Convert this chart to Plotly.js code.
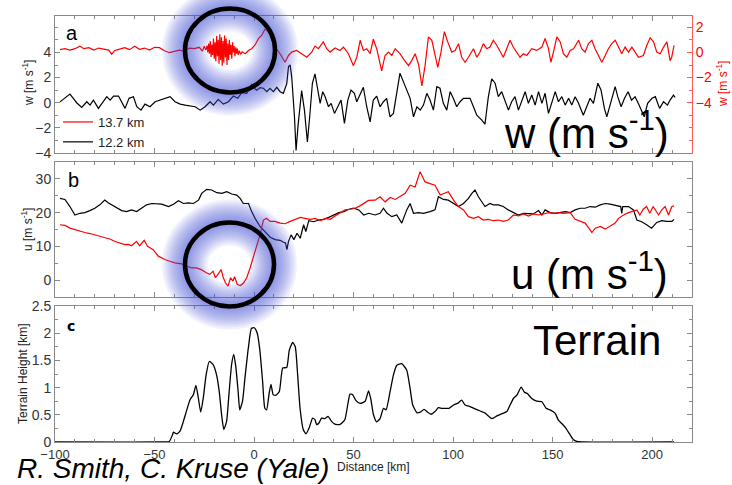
<!DOCTYPE html>
<html>
<head>
<meta charset="utf-8">
<script src="https://cdn.plot.ly/plotly-3.0.1.min.js"></script>
<style>html,body{margin:0;padding:0;background:#fff;}#chart{width:732px;height:485px;}</style>
</head>
<body>
<div id="chart"></div>
<script>
// ---- Panel a: vertical velocity w [m/s] ----
const wRedKm = [-97.5,-95,-92.5,-90,-87.5,-85.5,-83,-80.5,-78,-75.5,-73,-71.5,-70,-67.5,-65,-62.5,-60,-57.5,-55,-52.5,-50,-47.5,-45,-42.5,-40,-37.5,-35,-32.5,-30,-27.5,-26,-25,-24.2,-23.6,-23.2,-22.8,-22.4,-22,-21.6,-21.2,-20.8,-20.4,-20,-19.6,-19.2,-18.8,-18.4,-18,-17.6,-17.2,-16.8,-16.4,-16,-15.6,-15.2,-14.8,-14.4,-14,-13.6,-13.2,-12.8,-12.4,-12,-11.6,-11.2,-10.8,-10.4,-10,-9.6,-9.2,-8.8,-8.4,-8,-7.4,-6.8,-6,-4.5,-2.5,-1.2,0.5,2.2,3.9,5.5,7.2,8.9,10.5,13,15.6,17.3,18.9,21.4,23.9,26.5,29,30.6,32.3,34.8,36.5,38.2,40.7,43.2,44.9,47.4,49.9,51.6,53.3,54.9,56.6,58.3,59.9,61.6,64.1,65.8,67.5,69.2,70.9,73.3,75,77.6,79.2,80.9,82.6,84.3,85.9,87.6,89.3,90.9,92.3,93.9,95.6,97.3,99.3,101,102.7,104.3,106,107.7,110.2,111.9,113.5,115.2,116.9,118.5,120.2,121.9,123.6,125.2,126.9,128.6,130.2,131.9,133.6,135.3,137,139.5,142,144.6,146.2,147.9,149.1,150.4,152.1,153.8,155.4,157.1,158.8,160.5,163,164.6,166.3,168,169.7,171.3,173,174.7,176.4,178,179.7,181.4,183.1,184.7,186.4,188.1,189.8,191.4,193.1,195.6,197.3,199,200.7,202.3,204,205.7,207.4,209,209.8,211];
const wRedVal = [0.22,0.30,0.19,0.30,0.49,0.30,0.38,0.19,0.35,0.24,0.19,-0.14,0.16,0.27,0.38,0.22,0.49,0.25,0.35,0.19,0.41,0.38,0.14,-0.02,0.08,0.19,0.08,0.35,0.30,0.41,0.10,0.50,0.20,0.55,0.00,0.70,-0.10,0.90,-0.35,0.60,-0.20,1.10,-0.50,0.80,-0.70,1.30,-0.30,1.00,-0.90,1.45,-0.60,1.20,-1.05,0.90,-0.80,1.35,-0.40,1.10,-1.00,0.70,-0.60,1.00,-0.20,0.60,-0.50,0.80,0.00,0.50,-0.30,0.40,-0.10,0.30,-0.20,0.15,-0.15,0.05,-0.10,0.20,0.30,0.60,1.10,1.38,1.86,1.65,1.10,0.43,-0.10,-0.78,-0.24,0.03,0.16,-0.10,-0.38,0.03,0.51,0.30,0.84,0.30,0.03,0.35,0.16,0.43,-0.10,-1.05,-0.38,0.97,0.16,0.30,-0.10,1.05,0.30,-1.46,-0.24,0.03,-0.24,0.30,-0.10,-0.51,-1.05,-0.65,-0.10,-0.92,-2.67,-1.05,1.24,0.97,-0.24,-1.19,0.03,1.65,0.84,0.03,0.16,0.70,-0.38,-0.78,-0.38,0.30,-0.38,0.03,0.70,0.30,0.43,0.97,0.57,0.03,-0.38,0.30,0.97,0.43,0.03,-0.38,-0.10,-0.24,0.30,0.16,0.43,1.11,0.30,-0.78,0.03,1.24,0.84,-0.10,-0.38,0.16,0.30,0.97,0.30,0.03,0.70,0.97,0.30,-0.24,-0.78,-0.24,0.30,0.70,0.97,0.43,-0.10,0.43,0.03,0.43,0.03,-0.38,-0.24,0.57,1.16,0.84,0.03,-0.10,0.43,0.84,-0.65,-0.38,0.57];

const wBlackKm = [-97.5,-95,-92.5,-90.8,-89.1,-86.6,-84,-82.4,-80.7,-78.2,-75.7,-74,-72.3,-70.6,-68.1,-66.5,-64.8,-62.8,-60.6,-58.9,-56.8,-54.8,-52.3,-49.7,-47.2,-44.7,-42.2,-39.7,-37.1,-34.6,-32.1,-29.6,-27.1,-24.6,-22.1,-20.4,-18,-15.4,-12.9,-10.4,-8.2,-6.2,-3.7,-1.2,0.5,1.3,3,4.7,6.4,8,9.7,11.4,13.1,14.7,16.4,17.3,18.1,18.9,20.3,21.1,22.1,23.1,23.9,25.3,26.8,28,29.3,30.6,32,33.2,34.5,35.7,37.4,38.7,40.4,42,43.7,45.4,47.1,48.7,50.4,51.6,53.3,54.9,56.6,58.3,59.9,61.6,63.3,65,66.6,68.3,70,71.7,73.3,75,76.7,78.4,80.1,81.8,83.5,85.1,86.8,88.4,90.1,91.8,93.4,95.1,96.8,98.5,100.1,101.8,103.5,105.2,106.8,108.5,110.2,111.9,114.4,116,117.7,119.4,121.1,122.7,124.4,126.1,127.8,129.4,131.1,132.8,134.5,136.2,137.8,139.5,141.2,142.9,144.6,146.2,147.9,149.6,151.3,152.9,154.6,156.3,158,159.6,161.3,163,165.4,167.1,168.8,170.5,172.7,174.3,176,177.2,178.9,181.4,182.7,184.4,186.1,187.9,189.6,191.4,193,194.4,196,197.7,199.9,201.6,203.7,205.7,207.7,209,210.7,211.5];
const wBlackVal = [0.07,0.35,0.69,0.35,0.00,-0.37,0.08,-0.19,0.21,-0.45,0.08,0.48,0.21,0.53,0.53,0.08,-0.45,0.35,0.48,-0.32,-0.59,-0.11,-0.32,0.08,0.21,0.35,0.48,0.08,-0.11,-0.19,-0.27,-0.32,-0.59,-0.32,0.08,-0.19,0.27,-0.11,0.08,0.53,0.35,0.80,0.75,1.45,1.10,1.00,1.20,1.15,0.88,1.15,0.88,1.23,0.88,0.75,1.50,2.88,3.01,2.08,-1.12,-3.79,-1.80,-0.05,0.96,-0.59,-3.12,-1.00,1.55,2.29,1.15,-0.05,0.88,0.48,-0.32,-0.05,-0.85,-0.32,0.21,-1.65,0.21,1.01,0.75,0.08,0.75,1.23,-0.32,-1.52,0.21,0.53,-0.32,0.08,0.35,-1.12,-0.85,0.88,2.35,1.68,1.01,0.35,-1.12,-0.32,-0.59,-0.19,0.75,0.21,-0.59,1.28,1.15,-0.05,-0.59,0.88,0.35,-0.32,0.08,0.35,0.35,0.35,-0.32,-0.99,-1.39,-1.71,0.48,1.89,1.55,0.48,0.88,0.08,-0.59,0.08,0.48,-0.59,0.21,0.88,-0.05,0.61,-0.19,0.88,-0.05,0.75,-0.85,-0.05,0.88,0.08,0.48,-0.19,0.35,-0.19,0.48,-0.05,-0.99,-0.32,0.35,-0.05,1.55,1.01,-0.45,-1.12,-0.19,1.28,0.48,-0.32,0.35,0.88,0.21,0.48,-0.05,-0.59,-1.12,-0.05,0.35,0.48,-0.45,0.08,-0.19,0.21,0.61,0.42];

// ---- Panel b: horizontal wind u [m/s] ----
const uRedKm = [-97.5,-95,-92.5,-90,-87.5,-85,-82.5,-80,-77.5,-75,-72.5,-70,-67.5,-65,-63,-61.6,-60.2,-59.1,-57.5,-55.2,-53.5,-50.7,-48.1,-44.8,-42.3,-39.7,-36.4,-33.9,-31.4,-29,-26.5,-24,-22.3,-20.6,-19.4,-17.8,-16.5,-15.6,-14.4,-13.1,-11.8,-10.6,-9.8,-8.4,-6.8,-5.2,-3.7,-2,-0.3,1.3,3,4.7,6.3,8,10.6,13.1,15.6,18.2,20.7,23.2,25.7,28.2,30.7,33.2,35.7,38.2,40.7,43.2,45.7,48.2,50.7,53.2,55.7,57.5,60.8,63.3,65.8,68.4,70.9,73.4,75.9,78.4,80.9,83.4,85.9,88.4,90.9,93.5,95.5,97.6,100.2,102.7,105.2,107.7,110.2,112.7,115.2,117.7,120.2,122.7,125.2,127.7,130.3,132.8,135.3,137.8,140.3,142.9,145.4,147.9,150.4,152.9,155.4,158.8,161.3,163.8,166.3,168.8,169.7,171.4,173.9,176.4,178.9,181.4,183.1,185.6,188.1,190.6,192.3,193.8,195.5,197.2,198.8,200.5,203.2,204.8,206.5,208.2,209.9,211];
const uRedVal = [16.4,16.2,15.4,14.9,14.6,14.1,13.8,13.4,13.1,12.7,12.2,11.5,11.0,10.5,10.6,10.2,10.9,11.5,10.2,11.8,10.0,9.0,7.1,6.1,5.6,5.1,4.8,4.1,3.6,3.6,3.1,2.2,1.7,2.6,0.7,2.0,3.1,1.0,-0.8,-1.8,0.7,-0.3,1.0,-1.3,-1.6,-0.8,0.7,3.6,7.1,10.0,13.4,17.8,18.3,17.4,17.4,16.9,16.7,17.4,17.9,18.6,18.3,18.0,18.3,17.6,18.3,18.0,19.0,19.8,20.8,21.0,21.3,22.0,22.9,23.6,23.7,24.7,23.2,24.5,23.9,24.7,25.7,28.1,27.6,32.1,29.1,28.6,28.1,25.2,25.7,26.2,23.7,21.8,20.8,18.8,18.3,18.8,17.8,18.0,17.6,17.8,17.4,17.8,19.3,19.0,19.6,19.0,19.6,19.3,19.6,20.0,19.8,20.0,19.8,20.0,18.0,17.4,16.9,14.9,14.1,15.4,15.9,15.1,15.9,16.9,18.3,19.3,20.0,20.6,20.8,19.3,21.0,21.8,19.8,21.8,19.3,20.8,21.8,19.3,21.8,22.0];

const uBlackKm = [-97.5,-95,-92.5,-90,-87.5,-85,-82.5,-80,-77.5,-75,-73.3,-71.6,-69.1,-66.5,-64,-61.5,-59,-56.5,-54,-51.4,-48.9,-46.4,-43,-40.5,-38,-35.5,-33,-30.5,-27.9,-26.3,-23.8,-21.3,-18.7,-16.2,-13.7,-11.2,-8.7,-7,-5.4,-2.8,-1.2,0.5,3,5.6,8.1,10.6,13.1,14.8,15.8,16.5,17.3,18.6,20,21.6,23.2,24.9,26,27.5,30,32.5,35,37.5,40.1,42.6,45.1,47.6,50.1,52.6,55.1,57.6,60.8,63.3,65,66.7,69.2,71.7,74.2,76.7,78.4,80.1,82.6,85.1,88.4,90.9,92.6,95.1,97.6,100.2,102.7,105.2,107.7,109.4,111,112.7,114.4,116,118.5,120.2,122.7,125.2,127.7,130.3,132.8,135.3,137.8,140.3,142.9,144.6,146.2,148.7,151.3,153.8,156.3,158.8,161.3,163.8,166.3,168.8,171.4,173.9,176.4,178.9,182.2,184.2,184.7,185.2,188.1,190.6,192.3,194.7,197.2,199.7,202.3,204.8,207.3,209.9,211];
const uBlackVal = [24.2,23.9,21.8,19.3,19.8,20.0,20.6,21.3,22.3,23.7,22.9,22.3,21.3,20.6,20.3,20.8,20.3,21.3,22.3,22.7,22.7,22.5,21.8,22.5,23.5,22.7,22.9,22.7,23.7,25.7,26.9,26.7,25.9,25.7,26.2,25.5,25.2,24.2,22.7,22.7,20.3,18.3,15.9,14.1,12.7,12.0,11.8,11.2,11.0,9.0,11.5,13.4,12.0,13.9,12.4,16.4,14.4,17.6,17.3,17.8,18.0,18.6,19.3,20.0,20.3,21.0,21.3,20.8,19.3,19.8,19.3,19.8,21.3,19.9,18.8,19.3,16.9,20.8,22.7,19.8,20.0,19.8,20.3,20.8,24.7,23.9,23.7,22.7,21.8,22.7,24.2,25.7,26.7,24.7,23.2,21.8,22.7,22.3,22.3,21.8,20.8,20.0,19.3,19.8,19.6,19.6,20.6,19.3,20.8,20.0,19.8,20.0,20.3,20.0,20.8,21.3,21.3,21.8,21.6,22.3,22.7,22.5,22.0,21.8,19.8,21.8,21.8,20.8,17.8,17.3,16.4,15.4,17.1,17.6,17.4,17.4,18.0];

// ---- Panel c: terrain height [km] ----
const terrKm = [-100,-47,-42.6,-41,-40.5,-38.9,-37.2,-35.5,-33.8,-32.1,-30.5,-29.2,-28,-26.8,-25.5,-24.1,-22.5,-20.5,-18.8,-17.5,-16.3,-15.2,-13.8,-12.5,-11.3,-10.2,-9.2,-8,-7.2,-5.8,-4.6,-2.9,-1.3,0.1,1.6,2.9,4.3,5.4,6.3,7.6,8.5,9.6,11,12.7,14.4,16.4,17.7,19.4,20.7,21.9,23.1,24.7,26.1,27.7,29.4,30.6,31.4,32.6,33.9,35.6,37.2,38.9,40.6,43.1,45.6,48.2,49.5,51.2,53.3,55.8,57.5,58.6,60,61.6,63.3,65,66.3,68.3,70,71.7,74.2,76.7,78.4,79.7,81.8,83.5,85.4,86.8,88.9,90.9,92.6,94.3,96,98,100.2,102.2,104.3,106,108.5,111,113.6,116.1,119.5,122,124.5,127,128.6,130.3,132,134.2,135.7,137.3,139.5,142,144.6,146.7,148.7,151.2,152.9,154.6,156.7,158.8,160.5,162.1,164.6,211];
const terrH = [0,0,0.01,0.13,0.18,0.15,0.2,0.38,0.59,0.78,0.87,1.04,0.81,0.55,0.81,1.23,1.48,1.42,1.23,0.93,0.5,0.23,0.38,0.93,1.42,1.61,1.39,0.93,0.59,0.75,1.17,1.72,2.09,2.1,2.0,1.69,1.11,0.62,0.59,0.9,1.06,0.87,0.86,0.93,1.36,1.37,1.69,1.83,1.75,1.23,0.62,0.23,0.15,0.26,0.44,0.41,0.32,0.35,0.44,0.43,0.47,0.38,0.33,0.32,0.41,0.88,0.87,0.76,0.71,0.75,0.94,0.8,0.5,0.37,0.43,0.62,0.59,0.92,1.23,1.41,1.44,1.32,0.98,0.68,0.54,0.55,0.6,0.56,0.51,0.56,0.63,0.62,0.62,0.62,0.68,0.71,0.77,0.68,0.65,0.61,0.57,0.53,0.43,0.48,0.52,0.56,0.68,0.8,0.86,1.01,0.92,0.89,0.8,0.75,0.74,0.62,0.59,0.53,0.4,0.34,0.25,0.13,0.04,0.01,0,0];

// ---- tick labels ----
const xTickVals = [-100,-50,0,50,100,150,200];
const xTickText = ['\u2212100','\u221250','0','50','100','150','200'];
const xMinorVals = [-90,-80,-70,-60,-40,-30,-20,-10,10,20,30,40,60,70,80,90,110,120,130,140,160,170,180,190,210];
const wLeftTicks = [-4,-2,0,2,4];
const wLeftText = ['\u22124','\u22122','0','2','4'];
const wLeftMinor = [-3,-1,1,3,5,6];
const wRightTicks = [-4,-2,0,2];
const wRightText = ['\u22124','\u22122','0','2'];
const wRightMinor = [-7,-6,-5,-3,-1,1];
const uTicks = [0,10,20,30];
const uMinor = [-5,5,15,25,35];
const tTicks = [0,0.5,1,1.5,2,2.5];
const tText = ['0','0.5','1','1.5','2','2.5'];
const tMinor = [0.25,0.75,1.25,1.75,2.25];
const legendNames = ['13.7 km','12.2 km'];

const FONT = 'Liberation Sans, Arial, Helvetica, sans-serif';
const FRAME = '#8a8a8a';

const traces = [
  {x: wRedKm, y: wRedVal, xaxis:'x', yaxis:'y4', type:'scatter', mode:'lines', name: legendNames[0], line:{color:'#ff0000', width:1.2}},
  {x: wBlackKm, y: wBlackVal, xaxis:'x', yaxis:'y', type:'scatter', mode:'lines', name: legendNames[1], line:{color:'#000000', width:1.2}},
  {x: uBlackKm, y: uBlackVal, xaxis:'x2', yaxis:'y2', type:'scatter', mode:'lines', showlegend:false, line:{color:'#000000', width:1.2}},
  {x: uRedKm, y: uRedVal, xaxis:'x2', yaxis:'y2', type:'scatter', mode:'lines', showlegend:false, line:{color:'#ff0000', width:1.2}},
  {x: terrKm, y: terrH, xaxis:'x3', yaxis:'y3', type:'scatter', mode:'lines', showlegend:false, line:{color:'#000000', width:1.3, shape:'spline', smoothing:0.5}}
];

function xax(anchor, labels){
  return {anchor: anchor, domain:[0,1], range:[-100,220], showline:true, linecolor:FRAME, linewidth:1, mirror:'ticks',
    ticks:'inside', ticklen:5, tickwidth:1, tickcolor:FRAME, tickmode:'array', tickvals:xTickVals, ticktext:xTickText,
    showticklabels:labels, tickfont:{family:FONT, size:13, color:'#333'}, showgrid:false, zeroline:false,
    minor:{tickmode:'array', tickvals:xMinorVals, ticks:'inside', ticklen:3, tickcolor:FRAME, showgrid:false}};
}
function yax(domain, range, tv, tt, minor, mirror){
  return {domain:domain, range:range, showline:true, linecolor:FRAME, linewidth:1, mirror:mirror,
    ticks:'inside', ticklen:5, tickcolor:FRAME, tickmode:'array', tickvals:tv, ticktext:tt,
    tickfont:{family:FONT, size:14, color:'#333'}, showgrid:false, zeroline:false,
    minor:{tickmode:'array', tickvals:minor, ticks:'inside', ticklen:3, tickcolor:FRAME, showgrid:false}};
}

// pixel -> paper helpers for decoration placement
const L=55, T=16, PW=637, PH=426;
const px = v => (v-L)/PW;
const py = v => (T+PH-v)/PH;

const shapes = [];
function ring(cx, cy, rx, ry){
  const glow = [46,42,38,34,30,26,22,18,14,10,6];
  glow.forEach(w => shapes.push({type:'circle', xref:'paper', yref:'paper', layer:'above',
    x0:px(cx-rx), x1:px(cx+rx), y0:py(cy+ry), y1:py(cy-ry),
    line:{color:'rgba(70,82,215,0.075)', width:w}}));
  shapes.push({type:'circle', xref:'paper', yref:'paper', layer:'above',
    x0:px(cx-rx), x1:px(cx+rx), y0:py(cy+ry), y1:py(cy-ry), line:{color:'#000', width:4.5}});
}
ring(230, 50.5, 45, 42);
ring(229.5, 264.5, 44.5, 42);

const ann = (x,y,text,size,extra) => Object.assign({xref:'paper', yref:'paper', x:px(x), y:py(y), text:text, showarrow:false,
  font:{family:FONT, size:size, color:'#000'}, xanchor:'center', yanchor:'middle'}, extra||{});

const annotations = [
  ann(72, 33.5, 'a', 20),
  ann(73, 180, 'b', 20),
  ann(71, 326, '<b>c</b>', 15, {font:{family:'DejaVu Sans, sans-serif', size:14, color:'#000'}}),
  ann(28, 83, 'w [m s<sup>-1</sup>]', 12, {textangle:-90, font:{family:FONT, size:12, color:'#222'}}),
  ann(27, 229, 'u [m s<sup>-1</sup>]', 12, {textangle:-90, font:{family:FONT, size:12, color:'#222'}}),
  ann(23, 374, 'Terrain Height [km]', 12, {textangle:-90, font:{family:FONT, size:12, color:'#222'}}),
  ann(722, 84, 'w [m s<sup>-1</sup>]', 12, {textangle:-90, font:{family:FONT, size:12, color:'#ff0000'}}),
  ann(586, 130, 'w (m s<sup>-1</sup>)', 42),
  ann(589, 271, 'u (m s<sup>-1</sup>)', 42),
  ann(597, 340, 'Terrain', 42),
  ann(373, 467, 'Distance [km]', 12, {font:{family:FONT, size:12, color:'#222'}}),
  ann(15, 468, '<i>R. Smith, C. Kruse (Yale)</i>', 28, {xanchor:'left'})
];

const layout = {
  width:732, height:485, margin:{l:L, r:40, t:T, b:43}, paper_bgcolor:'#fff', plot_bgcolor:'#fff',
  showlegend:true,
  legend:{x:px(58), y:py(107), xanchor:'left', yanchor:'top', bgcolor:'rgba(0,0,0,0)', borderwidth:0,
    font:{family:FONT, size:13, color:'#222'}, tracegroupgap:0, itemwidth:30},
  xaxis: xax('y', false),
  xaxis2: xax('y2', false),
  xaxis3: xax('y3', true),
  yaxis: yax([0.6784,1], [-4,6.9], wLeftTicks, wLeftText, wLeftMinor, false),
  yaxis2: yax([0.3404,0.6573], [-5,35], uTicks, null, uMinor, 'ticks'),
  yaxis3: yax([0,0.3192], [0,2.5], tTicks, tText, tMinor, 'ticks'),
  yaxis4: {overlaying:'y', side:'right', anchor:'x', range:[-8,2.9], showline:true, linecolor:'#ff5a5a', linewidth:1,
    ticks:'inside', ticklen:5, tickcolor:'#ff5a5a', tickmode:'array', tickvals:wRightTicks, ticktext:wRightText,
    tickfont:{family:FONT, size:14, color:'#ff0000'}, showgrid:false, zeroline:false,
    minor:{tickmode:'array', tickvals:wRightMinor, ticks:'inside', ticklen:3, tickcolor:'#ff5a5a', showgrid:false}},
  shapes: shapes,
  annotations: annotations
};

Plotly.newPlot('chart', traces, layout, {staticPlot:true, displayModeBar:false});
</script>
</body>
</html>
